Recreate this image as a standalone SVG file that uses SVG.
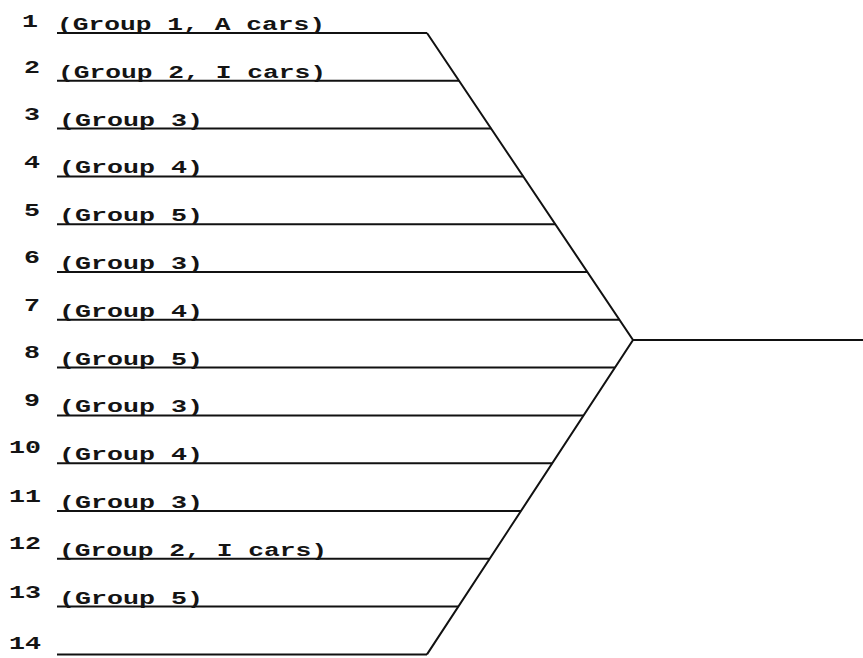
<svg xmlns="http://www.w3.org/2000/svg" width="863" height="658" viewBox="0 0 863 658">
<style>
  .bg{fill:#ffffff}
  .lbl{font-family:"Liberation Mono","Courier New",monospace;font-size:19px;font-weight:bold;fill:#141414}
  .num{font-family:"Liberation Mono","Courier New",monospace;font-size:19px;font-weight:bold;fill:#141414}
  .ln{stroke:#111111;stroke-width:2;fill:none;stroke-linecap:butt;stroke-linejoin:miter}
</style>
<rect class="bg" x="0" y="0" width="863" height="658"/>
<g id="connectors">
  <line class="ln" x1="57" y1="33" x2="427" y2="33"/>
  <line class="ln" x1="57" y1="80.8" x2="459.1" y2="80.8"/>
  <line class="ln" x1="57" y1="128.6" x2="491.2" y2="128.6"/>
  <line class="ln" x1="57" y1="176.4" x2="523.2" y2="176.4"/>
  <line class="ln" x1="57" y1="224.2" x2="555.3" y2="224.2"/>
  <line class="ln" x1="57" y1="272" x2="587.4" y2="272"/>
  <line class="ln" x1="57" y1="319.8" x2="619.5" y2="319.8"/>
  <line class="ln" x1="57" y1="367.6" x2="614.9" y2="367.6"/>
  <line class="ln" x1="57" y1="415.4" x2="583.6" y2="415.4"/>
  <line class="ln" x1="57" y1="463.2" x2="552.3" y2="463.2"/>
  <line class="ln" x1="57" y1="511" x2="521" y2="511"/>
  <line class="ln" x1="57" y1="558.8" x2="489.6" y2="558.8"/>
  <line class="ln" x1="57" y1="606.6" x2="458.3" y2="606.6"/>
  <line class="ln" x1="57" y1="654.4" x2="427" y2="654.4"/>
  <polyline class="ln" points="427,33 633,340 427,654.4"/>
  <line class="ln" x1="633" y1="340" x2="863" y2="340"/>
</g>
<g id="row1"><text class="num" x="22" y="27" textLength="16" lengthAdjust="spacingAndGlyphs">1</text><text class="lbl" x="57" y="30" textLength="268" lengthAdjust="spacingAndGlyphs">(Group 1, A cars)</text></g>
<g id="row2"><text class="num" x="24" y="73" textLength="16" lengthAdjust="spacingAndGlyphs">2</text><text class="lbl" x="58" y="77.8" textLength="268" lengthAdjust="spacingAndGlyphs">(Group 2, I cars)</text></g>
<g id="row3"><text class="num" x="24" y="120" textLength="16" lengthAdjust="spacingAndGlyphs">3</text><text class="lbl" x="59" y="125.6" textLength="144" lengthAdjust="spacingAndGlyphs">(Group 3)</text></g>
<g id="row4"><text class="num" x="24" y="168" textLength="16" lengthAdjust="spacingAndGlyphs">4</text><text class="lbl" x="59" y="173.4" textLength="144" lengthAdjust="spacingAndGlyphs">(Group 4)</text></g>
<g id="row5"><text class="num" x="24" y="216" textLength="16" lengthAdjust="spacingAndGlyphs">5</text><text class="lbl" x="59" y="221.2" textLength="144" lengthAdjust="spacingAndGlyphs">(Group 5)</text></g>
<g id="row6"><text class="num" x="24" y="263" textLength="16" lengthAdjust="spacingAndGlyphs">6</text><text class="lbl" x="59" y="269" textLength="144" lengthAdjust="spacingAndGlyphs">(Group 3)</text></g>
<g id="row7"><text class="num" x="24" y="311" textLength="16" lengthAdjust="spacingAndGlyphs">7</text><text class="lbl" x="59" y="316.8" textLength="144" lengthAdjust="spacingAndGlyphs">(Group 4)</text></g>
<g id="row8"><text class="num" x="24" y="358" textLength="16" lengthAdjust="spacingAndGlyphs">8</text><text class="lbl" x="59" y="364.6" textLength="144" lengthAdjust="spacingAndGlyphs">(Group 5)</text></g>
<g id="row9"><text class="num" x="24" y="406" textLength="16" lengthAdjust="spacingAndGlyphs">9</text><text class="lbl" x="59" y="412.4" textLength="144" lengthAdjust="spacingAndGlyphs">(Group 3)</text></g>
<g id="row10"><text class="num" x="9" y="453" textLength="32" lengthAdjust="spacingAndGlyphs">10</text><text class="lbl" x="59" y="460.2" textLength="144" lengthAdjust="spacingAndGlyphs">(Group 4)</text></g>
<g id="row11"><text class="num" x="9" y="502" textLength="32" lengthAdjust="spacingAndGlyphs">11</text><text class="lbl" x="59" y="508" textLength="144" lengthAdjust="spacingAndGlyphs">(Group 3)</text></g>
<g id="row12"><text class="num" x="9" y="549" textLength="32" lengthAdjust="spacingAndGlyphs">12</text><text class="lbl" x="59" y="555.8" textLength="268" lengthAdjust="spacingAndGlyphs">(Group 2, I cars)</text></g>
<g id="row13"><text class="num" x="9" y="598" textLength="32" lengthAdjust="spacingAndGlyphs">13</text><text class="lbl" x="59" y="603.6" textLength="144" lengthAdjust="spacingAndGlyphs">(Group 5)</text></g>
<g id="row14"><text class="num" x="9" y="649" textLength="32" lengthAdjust="spacingAndGlyphs">14</text></g>
</svg>
